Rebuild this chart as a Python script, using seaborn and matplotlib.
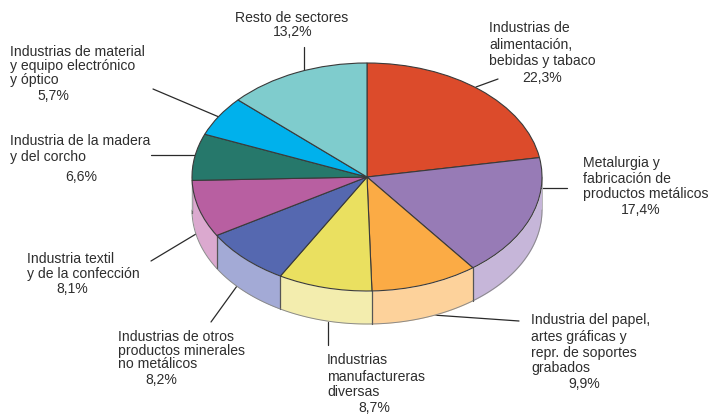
import numpy as np
import matplotlib.pyplot as plt
import seaborn as sns
from matplotlib.transforms import Affine2D

sns.set_theme(style='white')
plt.rcParams['font.family'] = ['Liberation Sans', 'DejaVu Sans']

sectores = ['Alimentacion', 'Metalurgia', 'Papel', 'Diversas', 'Minerales',
            'Textil', 'Madera', 'Electronico', 'Resto']
valores = [22.3, 17.4, 9.9, 8.7, 8.2, 8.1, 6.6, 5.7, 13.2]
colores = ['#DC4B2B', '#977BB6', '#FBAB45', '#EAE060', '#5568B0',
           '#B85FA1', '#26786B', '#00B1EC', '#7FCCCD']
laterales = ['#F0A58F', '#C6B6D9', '#FDD29B', '#F3EDAE', '#A3AAD6',
             '#DBA9CF', '#26786B', '#00B1EC', '#7FCCCD']

# ellipse of the top face and wall height, in pixels
cx, cy = 367, 415 - 177
rx, ry = 175, 114
alto = 33

fig, ax = plt.subplots(figsize=(7.09, 4.15), dpi=100)
fig.subplots_adjust(0, 0, 1, 1)

wedges, _ = ax.pie(valores, colors=colores, startangle=90, counterclock=False,
                   wedgeprops={'edgecolor': '#3a3a3a', 'linewidth': 0.8})
ax.set_aspect('auto')
ax.set_xlim(0, 709)
ax.set_ylim(0, 415)
ax.axis('off')

squash = Affine2D().scale(rx, ry).translate(cx, cy) + ax.transData
for w in wedges:
    w.set_transform(squash)
    w.set_zorder(3)

# wall below the front half, angles 180-360 and the same shifted by a turn
for w, lat in zip(wedges, laterales):
    for giro in (-360, 0, 360):
        a = max(w.theta1, 180 + giro)
        b = min(w.theta2, 360 + giro)
        if b <= a:
            continue
        t = np.radians(np.linspace(a, b, 60))
        x = cx + rx * np.cos(t)
        y = cy + ry * np.sin(t)
        ax.fill_between(x, y, y - alto, color=lat, lw=0, zorder=1)
        ax.plot(x, y - alto, color='#8a8a8a', lw=0.7, zorder=2)
        # dividing lines between walls, none on the two outer ends
        if a > 180 + giro:
            ax.plot([x[0], x[0]], [y[0], y[0] - alto], color='#555555', lw=0.9, zorder=2)
        else:
            ax.plot([x[0], x[0]], [y[0], y[0] - alto], color='#b0b0b0', lw=0.6, zorder=2)
        if b >= 360 + giro:
            ax.plot([x[-1], x[-1]], [y[-1], y[-1] - alto], color='#b0b0b0', lw=0.6, zorder=2)

lineas = [
    ((304, 47), (304, 71)),
    ((153, 89), (219, 117)),
    ((151, 155), (195, 155)),
    ((151, 261), (196, 234)),
    ((211, 322), (237, 286)),
    ((328, 322), (328, 345)),
    ((433, 315), (519, 321)),
    ((541, 188), (567, 188)),
    ((476, 87), (498, 79)),
]
for (x0, y0), (x1, y1) in lineas:
    ax.plot([x0, x1], [415 - y0, 415 - y1], color='#2a2a2a', lw=0.9, zorder=0)

textos = [
    ('Resto de sectores', 235, 17),
    ('13,2%', 273, 31),
    ('Industrias de material', 10, 51),
    ('y equipo electrónico', 10, 65),
    ('y óptico', 10, 79),
    ('5,7%', 37, 95),
    ('Industria de la madera', 10, 140),
    ('y del corcho', 10, 156),
    ('6,6%', 65, 176),
    ('Industria textil', 27, 258),
    ('y de la confección', 27, 273),
    ('8,1%', 56, 288),
    ('Industrias de otros', 118, 336),
    ('productos minerales', 118, 350),
    ('no metálicos', 118, 363),
    ('8,2%', 145, 379),
    ('Industrias', 327, 359),
    ('manufactureras', 327, 376),
    ('diversas', 327, 391),
    ('8,7%', 358, 407.5),
    ('Industria del papel,', 531, 319),
    ('artes gráficas y', 531, 336),
    ('repr. de soportes', 531, 352),
    ('grabados', 531, 367),
    ('9,9%', 568, 383),
    ('Metalurgia y', 583, 162),
    ('fabricación de', 583, 178),
    ('productos metálicos', 583, 193),
    ('17,4%', 621, 209),
    ('Industrias de', 489, 27),
    ('alimentación,', 489, 44),
    ('bebidas y tabaco', 489, 60),
    ('22,3%', 522, 77),
]
for s, x, y in textos:
    ax.text(x, 415 - y - 0.7, s, fontsize=10.05, color='#2e2e2e', ha='left', va='center', zorder=5)

fig.savefig('out.png', dpi=100)
